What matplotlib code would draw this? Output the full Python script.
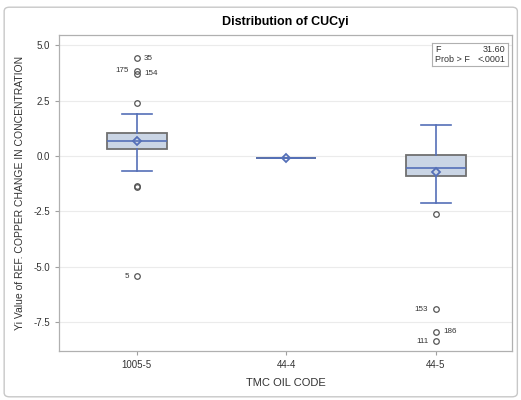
import matplotlib.pyplot as plt
from matplotlib.patches import FancyBboxPatch

plt.rcParams['font.family'] = ['Liberation Sans', 'DejaVu Sans']

CODES = ["1005-5", "44-4", "44-5"]
Q1 = [0.30, -0.08, -0.89]
MED = [0.69, -0.08, -0.56]
Q3 = [1.05, -0.08, 0.05]
WHISLO = [-0.68, -0.08, -2.14]
WHISHI = [1.90, -0.08, 1.40]
MEANS = [0.69, -0.08, -0.74]
FLIERS = [[4.42, 3.86, 3.71, 2.41, -1.36, -1.40, -5.43], [], [-2.62, -6.94, -7.95, -8.37]]

# labelled outliers: (group, value, text, side)
LABELS = [(0, 4.42, "35", "right"), (0, 3.86, "175", "left"), (0, 3.71, "154", "right"),
          (0, -5.43, "5", "left"), (2, -6.94, "153", "left"), (2, -7.95, "186", "right"),
          (2, -8.37, "111", "left")]

F_VALUE = "31.60"
P_VALUE = "<.0001"

fig = plt.figure(figsize=(5.21, 4.0), dpi=100)
ax = fig.add_axes([0.113, 0.1225, 0.870, 0.79])

stats = []
for i in range(len(CODES)):
    stats.append(dict(label=CODES[i], q1=Q1[i], med=MED[i], q3=Q3[i], whislo=WHISLO[i],
                      whishi=WHISHI[i], mean=MEANS[i], fliers=FLIERS[i]))

blue = '#5570B8'
ax.bxp(stats, positions=range(len(CODES)), widths=0.4, showmeans=True, patch_artist=True,
       boxprops=dict(facecolor='#CAD5E5', edgecolor='#707070', linewidth=1.3),
       medianprops=dict(color=blue, linewidth=1.2),
       whiskerprops=dict(color=blue, linewidth=1.2),
       capprops=dict(color=blue, linewidth=1.2),
       capwidths=0.2,
       meanprops=dict(marker='D', markerfacecolor='none', markeredgecolor=blue, markersize=4.5,
                      markeredgewidth=1.3),
       flierprops=dict(marker='o', markerfacecolor='none', markeredgecolor='#555555',
                       markersize=4, markeredgewidth=0.9))

for g, v, t, side in LABELS:
    off = 0.05 if side == "right" else -0.05
    ax.text(g + off, v, t, fontsize=5.8, color='#333333', va='center',
            ha='left' if side == "right" else 'right')

ax.set_xlim(-0.52, 2.51)
ax.set_ylim(-8.82, 5.47)
ax.set_yticks([5.0, 2.5, 0.0, -2.5, -5.0, -7.5])
ax.set_yticklabels(["5.0", "2.5", "0.0", "-2.5", "-5.0", "-7.5"])
ax.yaxis.grid(True, color='#EBEBEB', linewidth=0.8)
ax.set_axisbelow(True)
ax.tick_params(labelsize=7, colors='#A0A0A0', labelcolor='#333333', length=3, width=0.8)
for s in ax.spines.values():
    s.set_color('#B0B0B0')
    s.set_linewidth(0.9)

ax.set_xlabel("TMC OIL CODE", fontsize=8, color='#333333', labelpad=6)
ax.set_ylabel("Yi Value of REF. COPPER CHANGE IN CONCENTRATION", fontsize=7.5, color='#333333',
              labelpad=6)
ax.set_title("Distribution of CUCyi", fontsize=9, fontweight='bold', pad=7)

# stat inset box
inset = ax.inset_axes([0.824, 0.902, 0.167, 0.074])
inset.set_xticks([])
inset.set_yticks([])
for s in inset.spines.values():
    s.set_color('#B0B0B0')
    s.set_linewidth(0.8)
inset.text(0.04, 0.72, "F", fontsize=6.5, va='center', ha='left', color='#333333')
inset.text(0.96, 0.72, F_VALUE, fontsize=6.5, va='center', ha='right', color='#333333')
inset.text(0.04, 0.27, "Prob > F", fontsize=6.5, va='center', ha='left', color='#333333')
inset.text(0.96, 0.27, P_VALUE, fontsize=6.5, va='center', ha='right', color='#333333')

fig.patches.append(FancyBboxPatch((0.008, 0.008), 0.985, 0.974, transform=fig.transFigure,
                                  boxstyle='round,pad=0,rounding_size=0.01',
                                  facecolor='none', edgecolor='#C8C8C8', linewidth=1.0))

fig.savefig("out.png", dpi=100)
